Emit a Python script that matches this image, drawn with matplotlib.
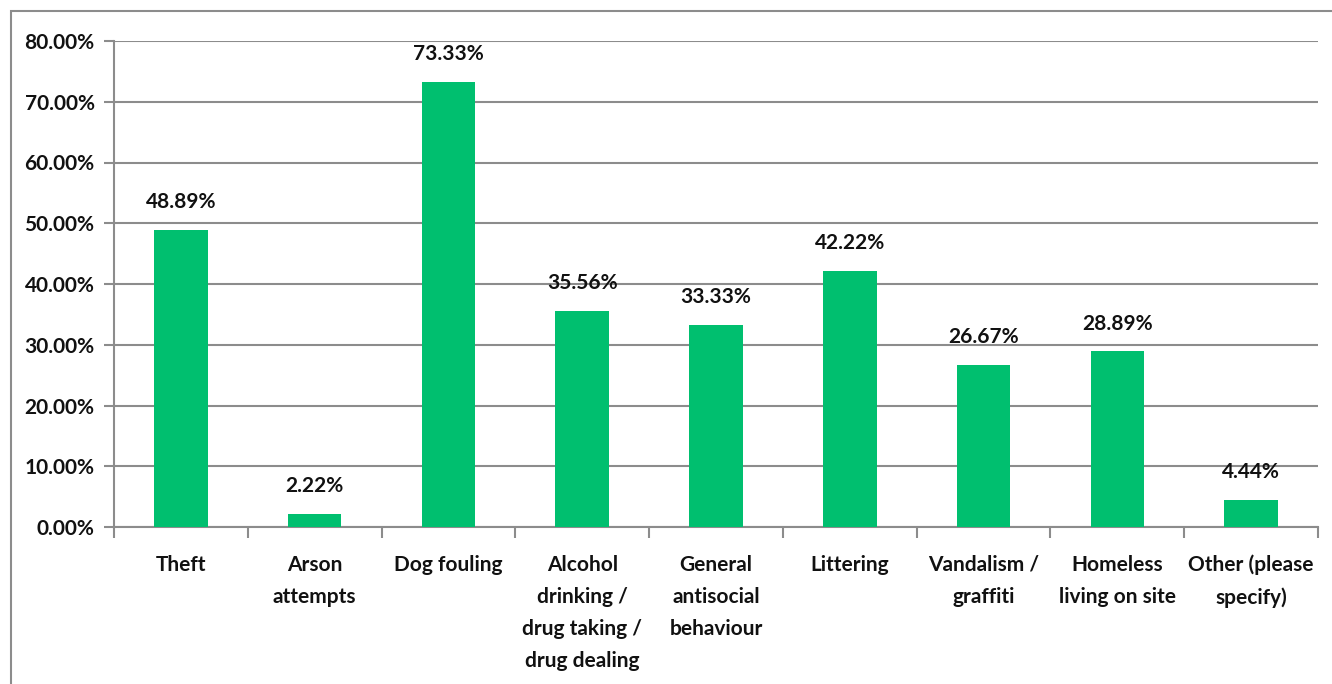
import matplotlib
matplotlib.use("Agg")
import matplotlib.pyplot as plt
from matplotlib.patches import Rectangle
from matplotlib.ticker import FuncFormatter, FixedLocator
import numpy as np

categories = ["Theft", "Arson\nattempts", "Dog fouling", "Alcohol\ndrinking /\ndrug taking /\ndrug dealing",
              "General\nantisocial\nbehaviour", "Littering", "Vandalism /\ngraffiti",
              "Homeless\nliving on site", "Other (please\nspecify)"]
values = [48.89, 2.22, 73.33, 35.56, 33.33, 42.22, 26.67, 28.89, 4.44]
yticks = [0, 10, 20, 30, 40, 50, 60, 70, 80]

FONT = ["Lato", "DejaVu Sans"]
plt.rcParams['font.family'] = FONT
W, H = 1332, 684
FS = 15
TXT = "#111111"
fig = plt.figure(figsize=(W/100, H/100), dpi=100)
ax = fig.add_axes([114/W, 1-527/H, (1318-114)/W, (527-41)/H])

x = np.arange(len(categories))
ax.bar(x, values, width=0.4, color="#00BF6F", zorder=3)
for xi, v in zip(x, values):
    ax.text(xi, v + 2.9, f"{v:.2f}%", ha="center", va="bottom", fontsize=FS,
            fontweight="bold", color=TXT, zorder=4)

ax.set_xlim(-0.5, len(categories) - 0.5)
ax.set_ylim(0, 80)
ax.set_yticks(yticks)
ax.yaxis.set_major_formatter(FuncFormatter(lambda v, p: f"{v:.2f}%"))
ax.grid(axis="y", color="#8c8c8c", linewidth=1.5, zorder=0)
ax.set_xticks(x)
ax.set_xticklabels(categories, fontsize=FS, fontweight="bold", color=TXT, linespacing=1.75)
ax.xaxis.set_minor_locator(FixedLocator(np.arange(-0.5, len(categories), 1.0)))
ax.tick_params(axis="x", which="major", length=0, pad=20)
ax.tick_params(axis="x", which="minor", length=8, width=1.5, color="#8c8c8c")
ax.tick_params(axis="y", length=7, width=1.5, color="#8c8c8c", labelsize=FS, pad=7)
for lab in ax.get_yticklabels():
    lab.set_fontweight("bold")
    lab.set_color(TXT)
for s in ["top", "right"]:
    ax.spines[s].set_visible(False)
for s in ["left", "bottom"]:
    ax.spines[s].set_color("#8c8c8c")
    ax.spines[s].set_linewidth(1.5)

fig.patches.append(Rectangle((11/W, -0.1), 1.2, 1 - 11/H + 0.1, transform=fig.transFigure,
                             fill=False, edgecolor="#8c8c8c", linewidth=1.5))
fig.savefig("out.png", dpi=100)
